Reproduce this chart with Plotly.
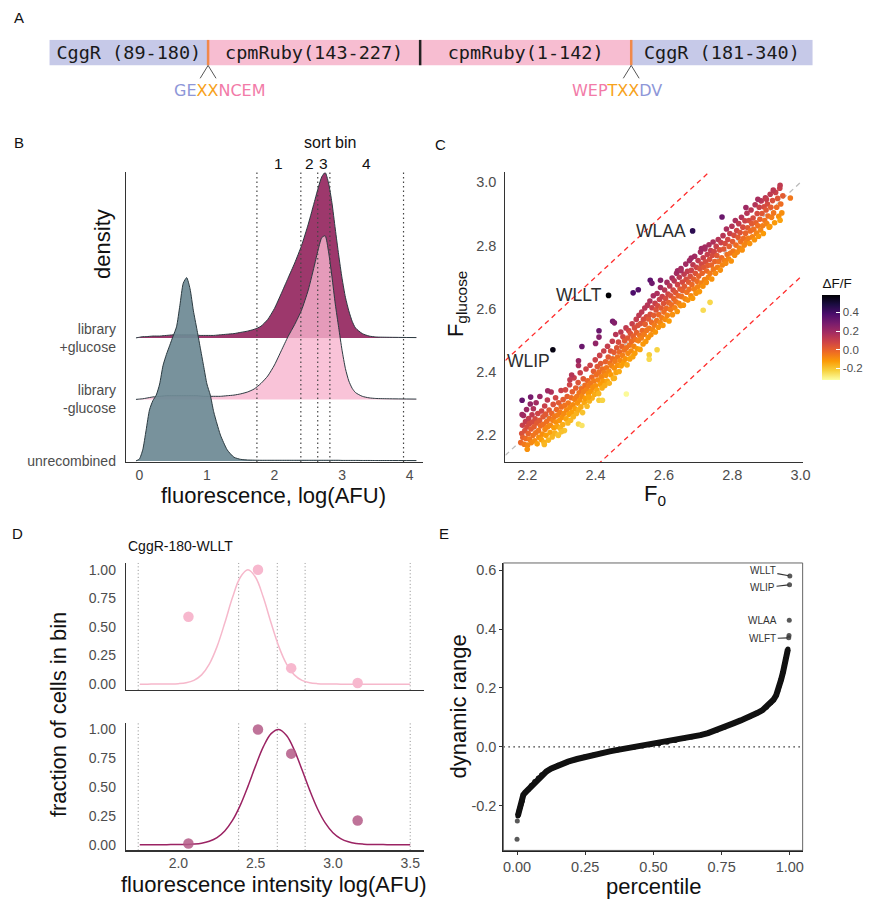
import plotly.graph_objects as go

W, H = 881, 903

# ======================= DATA =======================
# ---- Panel A: construct schematic ----
A_SEGMENTS = ["CggR (89-180)", "cpmRuby(143-227)", "cpmRuby(1-142)", "CggR (181-340)"]
A_SEG_KIND = ["CggR", "cpmRuby", "cpmRuby", "CggR"]
A_SEG_LEN = [160, 214, 213, 183]          # schematic lengths
A_JUNCTION_KIND = ["linker", "split", "linker"]
A_LINKER_LEFT = [("GE", "CggR"), ("XX", "X"), ("NCEM", "cpmRuby")]
A_LINKER_RIGHT = [("WEP", "cpmRuby"), ("TXX", "X"), ("DV", "CggR")]

# ---- Panel B: ridgeline densities (height in ridge-spacing units) ----
B_ROWS = ["unrecombined", "library<br>-glucose", "library<br>+glucose"]
B_GRID = [-0.05, 0.00, 0.05, 0.10, 0.15, 0.20, 0.25, 0.30, 0.35, 0.40,
          0.45, 0.50, 0.55, 0.60, 0.65, 0.70, 0.75, 0.80, 0.85, 0.90,
          0.95, 1.00, 1.05, 1.10, 1.15, 1.20, 1.30, 1.40, 1.50, 1.60,
          1.70, 1.80, 1.90, 2.00, 2.10, 2.20, 2.30, 2.40, 2.50, 2.60,
          2.65, 2.70, 2.75, 2.80, 2.85, 2.90, 2.95, 3.00, 3.05, 3.10,
          3.15, 3.20, 3.30, 3.40, 3.50, 3.70, 4.10]
B_UNRECOMBINED = [0.00, 0.03, 0.18, 0.50, 0.83, 0.98, 1.07, 1.25, 1.55, 1.73,
                  1.88, 2.03, 2.18, 2.53, 2.89, 2.98, 2.80, 2.44, 2.15, 1.85,
                  1.55, 1.25, 1.07, 0.80, 0.60, 0.42, 0.18, 0.06, 0.025, 0.015,
                  0.012, 0.010, 0.010, 0.010, 0.010, 0.010, 0.010, 0.010, 0.010, 0.010,
                  0.010, 0.010, 0.010, 0.010, 0.010, 0.010, 0.010, 0.008, 0.008, 0.008,
                  0.008, 0.008, 0.007, 0.007, 0.006, 0.006, 0.005]
B_LIB_MINUS = [0.000, 0.005, 0.010, 0.020, 0.030, 0.040, 0.045, 0.050, 0.055, 0.060,
               0.060, 0.060, 0.060, 0.060, 0.060, 0.060, 0.060, 0.060, 0.060, 0.055,
               0.050, 0.050, 0.050, 0.050, 0.050, 0.050, 0.060, 0.070, 0.090, 0.120,
               0.170, 0.260, 0.380, 0.560, 0.790, 1.020, 1.220, 1.450, 1.780, 2.220,
               2.450, 2.630, 2.660, 2.400, 2.000, 1.550, 1.170, 0.800, 0.500, 0.300,
               0.180, 0.110, 0.050, 0.025, 0.015, 0.010, 0.005]
B_LIB_PLUS = [0.000, 0.010, 0.020, 0.020, 0.025, 0.030, 0.030, 0.030, 0.035, 0.040,
              0.045, 0.050, 0.050, 0.050, 0.050, 0.050, 0.050, 0.050, 0.045, 0.040,
              0.040, 0.040, 0.040, 0.040, 0.045, 0.050, 0.060, 0.070, 0.090, 0.110,
              0.140, 0.190, 0.300, 0.480, 0.720, 0.970, 1.220, 1.500, 1.850, 2.250,
              2.450, 2.620, 2.690, 2.520, 2.200, 1.770, 1.350, 0.970, 0.660, 0.440,
              0.270, 0.160, 0.070, 0.030, 0.015, 0.010, 0.005]
B_BIN_EDGES = [1.74, 2.39, 2.64, 2.82, 3.91]
B_BIN_LABELS = ["1", "2", "3", "4"]
B_X_TICKS = [0, 1, 2, 3, 4]

# ---- Panel C: F0 vs F_glucose scatter (one entry per variant) ----
C_F0 = [
    2.181, 2.184, 2.186, 2.187, 2.189, 2.191, 2.193, 2.195, 2.196, 2.198,
    2.199, 2.201, 2.203, 2.204, 2.206, 2.207, 2.209, 2.211, 2.212, 2.214,
    2.215, 2.217, 2.218, 2.220, 2.222, 2.223, 2.225, 2.226, 2.228, 2.229,
    2.231, 2.233, 2.234, 2.236, 2.237, 2.239, 2.241, 2.242, 2.244, 2.246,
    2.247, 2.249, 2.251, 2.252, 2.254, 2.255, 2.257, 2.259, 2.260, 2.262,
    2.264, 2.265, 2.267, 2.268, 2.270, 2.272, 2.273, 2.275, 2.276, 2.278,
    2.280, 2.281, 2.283, 2.284, 2.286, 2.288, 2.289, 2.291, 2.292, 2.294,
    2.296, 2.297, 2.299, 2.300, 2.302, 2.304, 2.305, 2.307, 2.309, 2.310,
    2.312, 2.314, 2.315, 2.317, 2.319, 2.320, 2.322, 2.324, 2.325, 2.327,
    2.329, 2.330, 2.332, 2.334, 2.335, 2.337, 2.339, 2.340, 2.342, 2.344,
    2.345, 2.347, 2.349, 2.350, 2.352, 2.354, 2.355, 2.357, 2.359, 2.360,
    2.362, 2.364, 2.365, 2.367, 2.369, 2.370, 2.372, 2.374, 2.375, 2.377,
    2.379, 2.380, 2.382, 2.384, 2.385, 2.387, 2.389, 2.390, 2.392, 2.394,
    2.395, 2.397, 2.399, 2.400, 2.402, 2.404, 2.405, 2.407, 2.409, 2.410,
    2.412, 2.414, 2.415, 2.417, 2.419, 2.420, 2.422, 2.424, 2.425, 2.427,
    2.429, 2.430, 2.432, 2.434, 2.435, 2.437, 2.439, 2.440, 2.442, 2.444,
    2.445, 2.447, 2.449, 2.450, 2.452, 2.454, 2.455, 2.457, 2.459, 2.460,
    2.462, 2.464, 2.465, 2.467, 2.469, 2.470, 2.472, 2.474, 2.475, 2.477,
    2.479, 2.480, 2.482, 2.484, 2.485, 2.487, 2.489, 2.490, 2.492, 2.494,
    2.495, 2.497, 2.499, 2.500, 2.502, 2.504, 2.505, 2.507, 2.509, 2.510,
    2.512, 2.514, 2.515, 2.517, 2.519, 2.520, 2.522, 2.524, 2.525, 2.527,
    2.529, 2.530, 2.532, 2.534, 2.535, 2.537, 2.539, 2.540, 2.542, 2.544,
    2.545, 2.547, 2.549, 2.550, 2.552, 2.554, 2.555, 2.557, 2.559, 2.560,
    2.562, 2.564, 2.565, 2.567, 2.569, 2.570, 2.572, 2.574, 2.575, 2.577,
    2.579, 2.580, 2.582, 2.584, 2.585, 2.587, 2.589, 2.590, 2.592, 2.594,
    2.595, 2.597, 2.599, 2.600, 2.602, 2.604, 2.605, 2.607, 2.609, 2.610,
    2.612, 2.614, 2.615, 2.617, 2.619, 2.620, 2.622, 2.624, 2.625, 2.627,
    2.629, 2.630, 2.632, 2.634, 2.635, 2.637, 2.639, 2.640, 2.642, 2.644,
    2.645, 2.647, 2.649, 2.650, 2.652, 2.654, 2.655, 2.657, 2.659, 2.660,
    2.662, 2.664, 2.665, 2.667, 2.669, 2.670, 2.672, 2.674, 2.675, 2.677,
    2.679, 2.680, 2.682, 2.684, 2.685, 2.687, 2.689, 2.690, 2.692, 2.694,
    2.695, 2.697, 2.699, 2.700, 2.702, 2.704, 2.705, 2.707, 2.709, 2.710,
    2.712, 2.714, 2.715, 2.717, 2.719, 2.720, 2.722, 2.724, 2.725, 2.727,
    2.729, 2.730, 2.732, 2.734, 2.735, 2.737, 2.739, 2.740, 2.742, 2.744,
    2.745, 2.747, 2.749,
    2.751, 2.753, 2.755, 2.757, 2.759, 2.761, 2.763, 2.765, 2.767, 2.769,
    2.771, 2.773, 2.775, 2.777, 2.779, 2.781, 2.783, 2.785, 2.787, 2.789,
    2.791, 2.793, 2.795, 2.797, 2.799, 2.801, 2.803, 2.805, 2.807, 2.809,
    2.811, 2.813, 2.815, 2.817, 2.819, 2.821, 2.823, 2.825, 2.827, 2.829,
    2.831, 2.833, 2.835, 2.837, 2.839, 2.841, 2.843, 2.845, 2.847, 2.849,
    2.851, 2.853, 2.855, 2.857, 2.859, 2.861, 2.863, 2.865, 2.867, 2.869,
    2.871, 2.873, 2.875, 2.877, 2.879, 2.881, 2.883, 2.885, 2.887, 2.889,
    2.891, 2.893, 2.895, 2.897, 2.899, 2.901, 2.903, 2.905, 2.908, 2.911,
    2.913, 2.915, 2.918, 2.921, 2.924, 2.927, 2.930, 2.933, 2.936, 2.939,
    2.942, 2.945, 2.948,
    # isolated variants
    2.490, 2.557, 2.557, 2.580, 2.455, 2.410, 2.420, 2.380, 2.350, 2.360,
    2.290, 2.300, 2.200, 2.250, 2.185, 2.210, 2.185, 2.260, 2.325, 2.330,
    2.350, 2.350, 2.360, 2.400, 2.410, 2.410, 2.450, 2.455, 2.510, 2.525,
    2.560, 2.565, 2.590, 2.640, 2.650, 2.680, 2.710, 2.720, 2.770, 2.840,
    2.875, 2.900, 2.920, 2.940, 2.970, 2.940, 2.735, 2.715, 2.910,
]
C_FGLU = [
    2.176, 2.205, 2.231, 2.192, 2.262, 2.171, 2.214, 2.243, 2.189, 2.281,
    2.226, 2.168, 2.205, 2.252, 2.236, 2.187, 2.298, 2.219, 2.176, 2.264,
    2.241, 2.199, 2.283, 2.226, 2.182, 2.251, 2.207, 2.302, 2.238, 2.172,
    2.268, 2.214, 2.193, 2.247, 2.322, 2.229, 2.186, 2.276, 2.203, 2.258,
    2.234, 2.177, 2.292, 2.218, 2.266, 2.199, 2.243, 2.311, 2.226, 2.184,
    2.279, 2.252, 2.208, 2.231, 2.336, 2.268, 2.194, 2.247, 2.297, 2.223,
    2.259, 2.206, 2.318, 2.241, 2.281, 2.227, 2.263, 2.199, 2.302, 2.246,
    2.272, 2.221, 2.341, 2.289, 2.256, 2.233, 2.312, 2.268, 2.214, 2.294,
    2.343, 2.251, 2.279, 2.322, 2.238, 2.301, 2.266, 2.359, 2.287, 2.247,
    2.318, 2.272, 2.337, 2.296, 2.258, 2.381, 2.313, 2.283, 2.349, 2.268,
    2.322, 2.301, 2.366, 2.279, 2.334, 2.311, 2.397, 2.289, 2.346, 2.323,
    2.271, 2.378, 2.338, 2.302, 2.357, 2.316, 2.409, 2.344, 2.291, 2.372,
    2.331, 2.356, 2.308, 2.421, 2.364, 2.339, 2.383, 2.317, 2.351, 2.402,
    2.371, 2.329, 2.438, 2.356, 2.391, 2.342, 2.417, 2.374, 2.331, 2.399,
    2.452, 2.361, 2.426, 2.384, 2.349, 2.409, 2.371, 2.466, 2.398, 2.357,
    2.432, 2.389, 2.413, 2.371, 2.481, 2.447, 2.402, 2.364, 2.428, 2.466,
    2.391, 2.419, 2.497, 2.441, 2.379, 2.462, 2.412, 2.433, 2.518, 2.398,
    2.476, 2.447, 2.421, 2.494, 2.401, 2.463, 2.436, 2.526, 2.419, 2.481,
    2.452, 2.511, 2.428, 2.469, 2.498, 2.441, 2.539, 2.476, 2.422, 2.507,
    2.459, 2.531, 2.484, 2.441, 2.521, 2.466, 2.497, 2.552, 2.448, 2.513,
    2.481, 2.539, 2.459, 2.502, 2.566, 2.524, 2.473, 2.547, 2.498, 2.579,
    2.516, 2.471, 2.553, 2.507, 2.589, 2.531, 2.488, 2.566, 2.519, 2.602,
    2.551, 2.496, 2.574, 2.532, 2.611, 2.509, 2.567, 2.538, 2.624, 2.582,
    2.517, 2.556, 2.603, 2.533, 2.641, 2.579, 2.548, 2.617, 2.526, 2.596,
    2.562, 2.648, 2.609, 2.541, 2.581, 2.629, 2.556, 2.667, 2.602, 2.571,
    2.638, 2.547, 2.617, 2.589, 2.659, 2.566, 2.632, 2.601, 2.683, 2.579,
    2.646, 2.619, 2.561, 2.672, 2.597, 2.641, 2.612, 2.697, 2.581, 2.659,
    2.631, 2.688, 2.603, 2.651, 2.622, 2.712, 2.591, 2.676, 2.641, 2.617,
    2.699, 2.662, 2.609, 2.727, 2.638, 2.684, 2.657, 2.611, 2.709, 2.671,
    2.631, 2.741, 2.693, 2.652, 2.718, 2.627, 2.684, 2.661, 2.752, 2.702,
    2.641, 2.721, 2.676, 2.633, 2.739, 2.694, 2.662, 2.766, 2.712, 2.649,
    2.731, 2.687, 2.669, 2.752, 2.703, 2.654, 2.726, 2.779, 2.681, 2.741,
    2.712, 2.671, 2.761, 2.731, 2.692, 2.789, 2.748, 2.683, 2.719, 2.771,
    2.737, 2.699, 2.802, 2.756, 2.712, 2.784, 2.738, 2.694, 2.769, 2.811,
    2.725, 2.781, 2.749,
    2.712, 2.797, 2.768, 2.731, 2.819, 2.749, 2.786, 2.722, 2.809, 2.761,
    2.738, 2.831, 2.789, 2.752, 2.806, 2.744, 2.852, 2.771, 2.819, 2.758,
    2.797, 2.838, 2.776, 2.751, 2.861, 2.812, 2.782, 2.832, 2.769, 2.879,
    2.801, 2.847, 2.779, 2.826, 2.869, 2.792, 2.841, 2.812, 2.889, 2.786,
    2.858, 2.823, 2.801, 2.878, 2.839, 2.811, 2.902, 2.856, 2.823, 2.879,
    2.806, 2.846, 2.912, 2.869, 2.827, 2.887, 2.851, 2.818, 2.929, 2.872,
    2.839, 2.901, 2.862, 2.829, 2.921, 2.883, 2.849, 2.941, 2.901, 2.862,
    2.838, 2.922, 2.879, 2.951, 2.912, 2.869, 2.931, 2.893, 2.858, 2.962,
    2.921, 2.889, 2.942, 2.903, 2.872, 2.968, 2.921, 2.949, 2.892, 2.981,
    2.931, 2.903, 2.957,
    # isolated variants
    2.330, 2.454, 2.440, 2.470, 2.380, 2.310, 2.310, 2.320, 2.235, 2.230,
    2.200, 2.210, 2.155, 2.170, 2.310, 2.320, 2.265, 2.340, 2.375, 2.390,
    2.435, 2.420, 2.480, 2.490, 2.510, 2.530, 2.560, 2.555, 2.650, 2.660,
    2.690, 2.680, 2.690, 2.720, 2.720, 2.760, 2.790, 2.795, 2.890, 2.920,
    2.946, 2.946, 2.975, 2.990, 2.950, 2.880, 2.620, 2.595, 2.860,
]
C_LABELS = ["WLAA", "WLLT", "WLIP"]
C_LABEL_F0 = [2.684, 2.438, 2.275]
C_LABEL_FGLU = [2.846, 2.642, 2.470]
C_DIAG_OFFSETS = [0.3, -0.3]
C_TICKS = [2.2, 2.4, 2.6, 2.8, 3.0]
C_CBAR_TICKS = [-0.2, 0.0, 0.2, 0.4]

# ---- Panel D: per-bin fractions and Gaussian fits for CggR-180-WLLT ----
D_BIN_EDGES = [1.74, 2.39, 2.64, 2.82, 3.50]
D_FRAC_MINUS = [0.59, 1.00, 0.14, 0.01]
D_FRAC_PLUS = [0.01, 1.00, 0.79, 0.21]
D_GRID = [1.75, 1.80, 1.85, 1.90, 1.95, 2.00, 2.05, 2.10, 2.15, 2.20,
          2.25, 2.30, 2.35, 2.40, 2.45, 2.50, 2.55, 2.60, 2.65, 2.70,
          2.75, 2.80, 2.85, 2.90, 2.95, 3.00, 3.05, 3.10, 3.15, 3.20,
          3.25, 3.30, 3.35, 3.40, 3.45, 3.50]
D_FIT_MINUS = [0.0, 0.0, 0.0001, 0.0002, 0.001, 0.004, 0.012, 0.033, 0.081, 0.175,
               0.328, 0.534, 0.757, 0.933, 1.0, 0.933, 0.757, 0.534, 0.328, 0.175,
               0.081, 0.033, 0.012, 0.004, 0.001, 0.0002, 0.0, 0.0, 0.0, 0.0,
               0.0, 0.0, 0.0, 0.0, 0.0, 0.0]
D_FIT_PLUS = [0.0, 0.0, 0.0, 0.0001, 0.0002, 0.0006, 0.002, 0.005, 0.012, 0.029,
              0.061, 0.119, 0.210, 0.341, 0.506, 0.686, 0.851, 0.964, 1.0, 0.947,
              0.821, 0.650, 0.471, 0.312, 0.189, 0.104, 0.053, 0.025, 0.010, 0.004,
              0.0014, 0.0005, 0.0001, 0.0, 0.0, 0.0]
D_Y_TICKS = [0.0, 0.25, 0.5, 0.75, 1.0]
D_Y_TICKTEXT = ["0.00", "0.25", "0.50", "0.75", "1.00"]
D_X_TICKS = [2.0, 2.5, 3.0, 3.5]
D_X_TICKTEXT = ["2.0", "2.5", "3.0", "3.5"]

# ---- Panel E: sorted dynamic range ----
E_PCT = [0.003, 0.005, 0.008, 0.011, 0.015, 0.019, 0.023, 0.030, 0.041, 0.052,
         0.065, 0.078, 0.090, 0.108, 0.126, 0.150, 0.187, 0.220, 0.247, 0.280,
         0.308, 0.340, 0.369, 0.400, 0.429, 0.460, 0.490, 0.520, 0.550, 0.580,
         0.611, 0.640, 0.672, 0.700, 0.732, 0.760, 0.793, 0.820, 0.853, 0.880,
         0.900, 0.914, 0.930, 0.940, 0.950, 0.956, 0.962, 0.968, 0.975, 0.980,
         0.984, 0.988, 0.991, 0.993]
E_DR = [-0.234, -0.225, -0.215, -0.206, -0.195, -0.184, -0.163, -0.155, -0.145, -0.131,
        -0.117, -0.105, -0.094, -0.083, -0.073, -0.062, -0.050, -0.041, -0.034, -0.027,
        -0.021, -0.015, -0.010, -0.005, -0.001, 0.003, 0.007, 0.011, 0.016, 0.022,
        0.029, 0.034, 0.040, 0.047, 0.057, 0.067, 0.080, 0.090, 0.102, 0.115,
        0.125, 0.135, 0.150, 0.160, 0.175, 0.190, 0.208, 0.228, 0.253, 0.275,
        0.298, 0.312, 0.322, 0.332]
E_OUT_PCT = [0.000, 0.001, 0.996, 0.997, 0.998, 0.999, 1.000]
E_OUT_DR = [-0.313, -0.251, 0.370, 0.378, 0.430, 0.550, 0.580]
E_LABELS = ["WLFT", "WLAA", "WLIP", "WLLT"]
E_LABEL_IDX = [2, 4, 5, 6]
E_X_TICKS = [0.0, 0.25, 0.5, 0.75, 1.0]
E_X_TICKTEXT = ["0.00", "0.25", "0.50", "0.75", "1.00"]
E_Y_TICKS = [-0.2, 0.0, 0.2, 0.4, 0.6]
E_Y_TICKTEXT = ["-0.2", "0.0", "0.2", "0.4", "0.6"]

# ======================= STYLE / LAYOUT =======================
FONT = "Liberation Sans"
TICK_GRAY = "#4d4d4d"
A_COLORS = {"CggR": "#c6c9e8", "cpmRuby": "#f7bdd1"}
A_TEXT_COLORS = {"CggR": "#8e97d8", "X": "#f7a21b", "cpmRuby": "#f27ba8"}
A_ORIGIN = 50
RIDGE_FILL = ["rgba(110,138,148,0.93)", "rgba(247,180,206,0.8)", "rgb(157,56,108)"]
RIDGE_LINE = "#2b3a40"
D_COLORS = {"minus": "#f6b8cb", "minus_pt": "#f7b8ce", "plus": "#9b2363", "plus_pt": "rgba(180,90,135,0.85)"}

XB_RANGE = [-0.2, 4.2]
YB_RANGE = [-0.016, 4.69]
XC_RANGE = [2.136, 3.006]
YC_RANGE = [2.115, 3.031]
XD_RANGE = [1.66, 3.59]
YD_RANGE = [-0.05, 1.06]
XE_RANGE = [-0.05, 1.047]
YE_RANGE = [-0.351, 0.624]


def xd(a, b):
    return [a / W, b / W]


def yd(top, bottom):
    return [1 - bottom / H, 1 - top / H]


def px(x):
    return x / W


def py(y):
    return 1 - y / H


fig = go.Figure()
shapes = []
annotations = []

# ---------------- Panel A ----------------
starts = []
pos = A_ORIGIN
for L in A_SEG_LEN:
    starts.append(pos)
    pos += L
for name, L, st, kind in zip(A_SEGMENTS, A_SEG_LEN, starts, A_SEG_KIND):
    fig.add_trace(go.Bar(
        x=[L], y=[0], base=[st], orientation="h", width=1,
        marker=dict(color=A_COLORS[kind], line=dict(width=0)),
        text=[name], textposition="inside", insidetextanchor="middle",
        constraintext="none",
        textfont=dict(family="DejaVu Sans Mono", size=18.5, color="#1a1a1a"),
        xaxis="x6", yaxis="y6", hoverinfo="skip", showlegend=False))
junctions = starts[1:]
for jx, kind in zip(junctions, A_JUNCTION_KIND):
    shapes.append(dict(type="line", xref="x6", yref="y6", x0=jx, x1=jx, y0=-0.5, y1=0.5,
                       line=dict(color="#f0894a" if kind == "linker" else "#222222", width=2.5)))
    if kind == "linker":
        for d in (-8, 8):
            shapes.append(dict(type="line", xref="x6", yref="paper", x0=jx, x1=jx + d,
                               y0=py(65), y1=py(78), line=dict(color="#555555", width=1)))


def colored(parts):
    return "".join(f'<span style="color:{A_TEXT_COLORS[k]}">{t}</span>' for t, k in parts)


linker_j = [j for j, k in zip(junctions, A_JUNCTION_KIND) if k == "linker"]
for j, parts, shift in [(linker_j[0], A_LINKER_LEFT, 12), (linker_j[1], A_LINKER_RIGHT, -14)]:
    annotations.append(dict(x=j, xref="x6", y=py(90), yref="paper", text=colored(parts),
                            showarrow=False, xshift=shift, xanchor="center", yanchor="middle",
                            font=dict(family="DejaVu Sans", size=16)))

# ---------------- Panel B ----------------
ridge_vals = [B_UNRECOMBINED, B_LIB_MINUS, B_LIB_PLUS]
for i in [2, 1, 0]:
    base = [i] * len(B_GRID)
    fig.add_trace(go.Scatter(x=B_GRID, y=base, mode="lines", line=dict(width=0),
                             xaxis="x", yaxis="y", hoverinfo="skip", showlegend=False))
    fig.add_trace(go.Scatter(x=B_GRID, y=[i + v for v in ridge_vals[i]], mode="lines",
                             fill="tonexty", fillcolor=RIDGE_FILL[i],
                             line=dict(color=RIDGE_LINE, width=1, shape="spline", smoothing=0.6),
                             xaxis="x", yaxis="y", hoverinfo="skip", showlegend=False))
for e in B_BIN_EDGES:
    shapes.append(dict(type="line", xref="x", yref="y domain", x0=e, x1=e, y0=0, y1=1,
                       line=dict(color="#444444", width=1.2, dash="1.5px,3px"), layer="above"))
for k, lab in enumerate(B_BIN_LABELS):
    annotations.append(dict(x=(B_BIN_EDGES[k] + B_BIN_EDGES[k + 1]) / 2, xref="x", y=py(164), yref="paper",
                            text=lab, showarrow=False, xanchor="center", yanchor="middle",
                            font=dict(family=FONT, size=15.5, color="#111")))
annotations.append(dict(x=(B_BIN_EDGES[0] + B_BIN_EDGES[-1]) / 2, xref="x", y=py(143), yref="paper",
                        text="sort bin", showarrow=False, xanchor="center", yanchor="middle",
                        font=dict(family=FONT, size=16, color="#111")))

# ---------------- Panel C ----------------
cx = C_F0 + C_LABEL_F0
cy = C_FGLU + C_LABEL_FGLU
ccol = [10 ** (g - f) - 1 for f, g in zip(cx, cy)]

for off in [0.0] + C_DIAG_OFFSETS:
    fig.add_trace(go.Scatter(x=XC_RANGE, y=[XC_RANGE[0] + off, XC_RANGE[1] + off], mode="lines",
                             line=dict(color="#bbbbbb" if off == 0 else "#ff2b2b", width=1.3, dash="5px,4px"),
                             xaxis="x2", yaxis="y2", hoverinfo="skip", showlegend=False))
fig.add_trace(go.Scatter(
    x=cx, y=cy, mode="markers", xaxis="x2", yaxis="y2", hoverinfo="skip", showlegend=False,
    marker=dict(size=5.6, color=ccol, colorscale="Inferno", reversescale=True, cmin=-0.32, cmax=0.59,
                line=dict(width=0),
                colorbar=dict(x=px(830), xanchor="left", y=py(329), yanchor="middle",
                              len=106 / H, lenmode="fraction", thickness=18, thicknessmode="pixels",
                              xpad=0, ypad=0, outlinewidth=0,
                              tickvals=C_CBAR_TICKS, ticktext=["-0.2", "0.0", "0.2", "0.4"],
                              ticks="inside", ticklen=4, tickcolor="white",
                              tickfont=dict(family=FONT, size=11.5, color=TICK_GRAY),
                              title=dict(text="ΔF/F", side="top", font=dict(family=FONT, size=13.5, color="#111"))))))
label_shift = {"WLAA": (-5, 0), "WLLT": (-5, 0), "WLIP": (-1, -11)}
for lab, f0, fg in zip(C_LABELS, C_LABEL_F0, C_LABEL_FGLU):
    sx, sy = label_shift[lab]
    annotations.append(dict(x=f0, y=fg, xref="x2", yref="y2", text=lab, showarrow=False,
                            xanchor="right", yanchor="middle", xshift=sx, yshift=sy,
                            font=dict(family=FONT, size=17.5, color="#2d2d2d")))

# ---------------- Panel D ----------------
d_mid = [(D_BIN_EDGES[k] + D_BIN_EDGES[k + 1]) / 2 for k in range(4)]
for xa, ya in [("x3", "y3"), ("x4", "y4")]:
    for e in D_BIN_EDGES:
        shapes.append(dict(type="line", xref=xa, yref=ya + " domain", x0=e, x1=e, y0=0, y1=1,
                           line=dict(color="#8c8c8c", width=1, dash="1px,2.5px"), layer="below"))
fig.add_trace(go.Scatter(x=D_GRID, y=D_FIT_MINUS, mode="lines", line=dict(color=D_COLORS["minus"], width=1.5, shape="spline"),
                         xaxis="x3", yaxis="y3", hoverinfo="skip", showlegend=False))
fig.add_trace(go.Scatter(x=d_mid, y=D_FRAC_MINUS, mode="markers", marker=dict(size=10.5, color=D_COLORS["minus_pt"]),
                         xaxis="x3", yaxis="y3", hoverinfo="skip", showlegend=False, cliponaxis=False))
fig.add_trace(go.Scatter(x=D_GRID, y=D_FIT_PLUS, mode="lines", line=dict(color=D_COLORS["plus"], width=1.5, shape="spline"),
                         xaxis="x4", yaxis="y4", hoverinfo="skip", showlegend=False))
fig.add_trace(go.Scatter(x=d_mid, y=D_FRAC_PLUS, mode="markers", marker=dict(size=10.5, color=D_COLORS["plus_pt"]),
                         xaxis="x4", yaxis="y4", hoverinfo="skip", showlegend=False, cliponaxis=False))

# ---------------- Panel E ----------------
shapes.append(dict(type="line", xref="x5 domain", yref="y5", x0=0, x1=1, y0=0, y1=0,
                   line=dict(color="#333333", width=1.3, dash="1.5px,3.5px"), layer="below"))
shapes.append(dict(type="rect", xref="x5 domain", yref="y5 domain", x0=0, x1=1, y0=0, y1=1,
                   line=dict(color="#666666", width=1), layer="above"))
fig.add_trace(go.Scatter(x=E_PCT, y=E_DR, mode="lines+markers",
                         line=dict(color="#111111", width=6),
                         marker=dict(size=5, color="#111111"),
                         xaxis="x5", yaxis="y5", hoverinfo="skip", showlegend=False))
fig.add_trace(go.Scatter(x=E_OUT_PCT, y=E_OUT_DR, mode="markers",
                         marker=dict(size=5, color="rgba(60,60,60,0.85)"),
                         xaxis="x5", yaxis="y5", hoverinfo="skip", showlegend=False, cliponaxis=False))
e_offsets = {"WLLT": (-27, -5, True), "WLIP": (-27, 3, True), "WLAA": (-27, 0, False), "WLFT": (-26, 1, True)}
for lab, idx in zip(E_LABELS, E_LABEL_IDX):
    ax, ay, arrow = e_offsets[lab]
    annotations.append(dict(x=E_OUT_PCT[idx], y=E_OUT_DR[idx], xref="x5", yref="y5", text=lab,
                            showarrow=True, ax=ax, ay=ay, axref="pixel", ayref="pixel",
                            arrowhead=0, arrowwidth=1.1, standoff=1,
                            arrowcolor="#333333" if arrow else "rgba(0,0,0,0)",
                            font=dict(family=FONT, size=10, color="#333333")))


# ---------------- titles and panel letters ----------------
def title(text, x, y, size=22, angle=0, xanchor="center"):
    annotations.append(dict(text=text, x=px(x), y=py(y), xref="paper", yref="paper", showarrow=False,
                            xanchor=xanchor, yanchor="middle", textangle=angle,
                            font=dict(family=FONT, size=size, color="#111111")))


title("fluorescence, log(AFU)", 276, 499)
title("density", 104, 245, angle=-90)
title("F<sub>0</sub>", 661, 498)
title("F<sub>glucose</sub>", 461, 305, angle=-90)
title("CggR-180-WLLT", 127, 550, size=14, xanchor="left")
title("fluorescence intensity log(AFU)", 277, 891)
title("fraction of cells in bin", 59, 720, angle=-90)
title("percentile", 659, 893)
title("dynamic range", 463, 712, angle=-90)
for lab, x, y in [("A", 19, 17), ("B", 19, 143), ("C", 445, 145), ("D", 18, 537), ("E", 448, 537)]:
    title(lab, x, y, size=15)

# ---------------- axes ----------------
tickfont = dict(family=FONT, size=14, color=TICK_GRAY)
base_ax = dict(showgrid=False, zeroline=False, showline=True, linecolor="#333333", linewidth=1.1,
               ticks="", tickfont=tickfont)

layout_axes = dict(
    xaxis=dict(base_ax, domain=xd(127, 427), range=XB_RANGE, anchor="y", tickvals=B_X_TICKS),
    yaxis=dict(base_ax, domain=yd(173, 465), range=YB_RANGE, anchor="x", tickvals=[0, 1, 2],
               ticktext=B_ROWS, ticklabelstandoff=6),
    xaxis2=dict(base_ax, domain=xd(510, 810), range=XC_RANGE, anchor="y2", tickvals=C_TICKS,
                ticktext=["%.1f" % t for t in C_TICKS], tickfont=dict(tickfont, size=14.5)),
    yaxis2=dict(base_ax, domain=yd(173, 465), range=YC_RANGE, anchor="x2", tickvals=C_TICKS,
                ticktext=["%.1f" % t for t in C_TICKS], tickfont=dict(tickfont, size=14.5), ticklabelstandoff=5),
    xaxis3=dict(base_ax, domain=xd(127, 428), range=XD_RANGE, anchor="y3", showticklabels=False),
    yaxis3=dict(base_ax, domain=yd(567, 695), range=YD_RANGE, anchor="x3", tickvals=D_Y_TICKS,
                ticktext=D_Y_TICKTEXT, ticklabelstandoff=6),
    xaxis4=dict(base_ax, domain=xd(127, 428), range=XD_RANGE, anchor="y4", tickvals=D_X_TICKS,
                ticktext=D_X_TICKTEXT),
    yaxis4=dict(base_ax, domain=yd(728, 857), range=YD_RANGE, anchor="x4", tickvals=D_Y_TICKS,
                ticktext=D_Y_TICKTEXT, ticklabelstandoff=6),
    xaxis5=dict(base_ax, domain=xd(508, 810), range=XE_RANGE, anchor="y5", tickvals=E_X_TICKS,
                ticktext=E_X_TICKTEXT, ticks="outside", ticklen=3, tickcolor="#333333",
                tickfont=dict(tickfont, size=14.5), linecolor="#222222"),
    yaxis5=dict(base_ax, domain=yd(567, 857), range=YE_RANGE, anchor="x5", tickvals=E_Y_TICKS,
                ticktext=E_Y_TICKTEXT, ticks="outside", ticklen=3, tickcolor="#333333",
                tickfont=dict(tickfont, size=14.5), linecolor="#222222"),
    xaxis6=dict(domain=[0, 1], range=[0, W], anchor="y6", visible=False),
    yaxis6=dict(domain=yd(39, 65), range=[-0.5, 0.5], anchor="x6", visible=False),
)

fig.update_layout(
    width=W, height=H, margin=dict(l=0, r=0, t=0, b=0),
    paper_bgcolor="white", plot_bgcolor="white",
    showlegend=False, barmode="overlay",
    font=dict(family=FONT, color="#111111"),
    shapes=shapes, annotations=annotations,
    **layout_axes,
)

fig.write_html("out.html", config={"displayModeBar": False, "staticPlot": True},
               post_script="document.body.style.margin='0px';")
